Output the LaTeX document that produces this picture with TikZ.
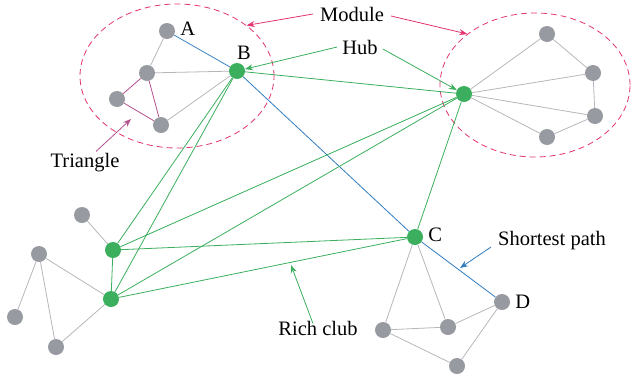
\documentclass[tikz,border=0pt]{standalone}
\usepackage{fontspec}
\setmainfont{Liberation Serif}
\usepackage{xcolor}
\usepackage{tikz}
\usetikzlibrary{positioning, arrows.meta, shapes.geometric}

\definecolor{clubgreen}{HTML}{3BAF5D}
\definecolor{nodegray}{HTML}{979AA0}
\definecolor{edgegray}{HTML}{B6B6BC}
\definecolor{pathblue}{HTML}{2F7DBF}
\definecolor{trimagenta}{HTML}{B5508F}
\definecolor{modpink}{HTML}{E3336E}

\begin{document}
\begin{tikzpicture}[
    x=1pt, y=-1pt,
    % vertex styles
    vgray/.style={circle, fill=nodegray, minimum size=16pt, inner sep=0pt},
    vhub/.style={circle, fill=clubgreen, minimum size=16pt, inner sep=0pt},
    % module outline
    modring/.style={ellipse, draw=modpink, dashed, line width=0.8pt,
        dash pattern=on 6pt off 4pt, inner sep=0pt},
    % edge styles
    plain/.style={draw=edgegray, line width=0.8pt},
    rich/.style={draw=clubgreen, line width=0.8pt},
    short/.style={draw=pathblue, line width=0.8pt},
    tri/.style={draw=trimagenta, line width=0.8pt},
    % callouts
    txt/.style={font=\fontsize{20.5}{22}\selectfont, inner sep=1pt},
    callout/.style={-{Stealth[length=8pt, width=6pt]}, line width=0.8pt}
]
    \useasboundingbox (0,0) rectangle (631,381);

    % Modules
    \node[modring, minimum width=194pt, minimum height=144pt] (modL) at (177,76) {};
    \node[modring, minimum width=190pt, minimum height=144pt] (modR) at (535,85) {};

    % Nodes - left module
    \node[vgray] (vA) at (167,31) {};
    \node[vhub]  (vB) at (237,71) {};
    \node[vgray] (lm) at (147,73) {};
    \node[vgray] (ll) at (117,99) {};
    \node[vgray] (lb) at (161,125) {};

    % Nodes - right module
    \node[vhub]  (vR) at (464,94) {};
    \node[vgray] (r1) at (547,34) {};
    \node[vgray] (r2) at (593,73) {};
    \node[vgray] (r3) at (595,116) {};
    \node[vgray] (r4) at (547,137) {};

    % Nodes - lower left
    \node[vhub]  (g1) at (113,250) {};
    \node[vhub]  (g2) at (111,299) {};
    \node[vgray] (b0) at (82,215) {};
    \node[vgray] (b1) at (39,254) {};
    \node[vgray] (b2) at (15,317) {};
    \node[vgray] (b3) at (56,347) {};

    % Nodes - lower right
    \node[vhub]  (vC) at (415,237) {};
    \node[vgray] (vD) at (502,302) {};
    \node[vgray] (c1) at (383,330) {};
    \node[vgray] (c2) at (448,327) {};
    \node[vgray] (c3) at (457,366) {};

    % Letters
    \node[txt, right=4pt of vA, yshift=2pt] (lblA) {A};
    \node[txt, above=2pt of vB, xshift=7pt] (lblB) {B};
    \node[txt, right=4pt of vC, yshift=2pt] (lblC) {C};
    \node[txt, right=4pt of vD] (lblD) {D};

    % Edges - plain
    \draw[plain] (vA) -- (lm);
    \draw[plain] (lm) -- (vB);
    \draw[plain] (lb) -- (vB);
    \draw[plain] (vR) -- (r1);
    \draw[plain] (vR) -- (r2);
    \draw[plain] (vR) -- (r3);
    \draw[plain] (vR) -- (r4);
    \draw[plain] (r1) -- (r2);
    \draw[plain] (r2) -- (r3);
    \draw[plain] (r3) -- (r4);
    \draw[plain] (b0) -- (g1);
    \draw[plain] (b1) -- (g2);
    \draw[plain] (b1) -- (b2);
    \draw[plain] (b1) -- (b3);
    \draw[plain] (b3) -- (g2);
    \draw[plain] (vC) -- (c1);
    \draw[plain] (vC) -- (c2);
    \draw[plain] (vD) -- (c2);
    \draw[plain] (vD) -- (c3);
    \draw[plain] (c1) -- (c2);
    \draw[plain] (c1) -- (c3);

    % Edges - triangle
    \draw[tri] (lm) -- (ll);
    \draw[tri] (ll) -- (lb);
    \draw[tri] (lm) -- (lb);

    % Edges - shortest path
    \draw[short] (vA) -- (vB);
    \draw[short] (vB) -- (vC);
    \draw[short] (vC) -- (vD);

    % Edges - rich club
    \draw[rich] (vB) -- (vR);
    \draw[rich] (vB) -- (g1);
    \draw[rich] (vB) -- (g2);
    \draw[rich] (vR) -- (g1);
    \draw[rich] (vR) -- (g2);
    \draw[rich] (vR) -- (vC);
    \draw[rich] (g1) -- (vC);
    \draw[rich] (g2) -- (vC);
    \draw[rich] (g1) -- (g2);

    % Callouts
    \node[txt] (tModule) at (352,14) {Module};
    \node[txt] (tHub) at (360,47) {Hub};
    \node[txt] (tTri) at (85,163) {Triangle};
    \node[txt] (tRich) at (318,328) {Rich club};
    \node[txt] (tPath) at (552,241) {Shortest path};

    \coordinate (triTip) at (131,119);
    \coordinate (richTip) at (291,265);
    \coordinate (pathTip) at (460,268);

    \draw[callout, modpink] ([xshift=-6pt]tModule.west) -- (modL.36);
    \draw[callout, modpink] ([xshift=6pt, yshift=-2pt]tModule.east) -- (modR.143);
    \draw[callout, clubgreen] ([xshift=-4pt]tHub.west) -- (vB);
    \draw[callout, clubgreen] ([xshift=4pt, yshift=-2pt]tHub.east) -- (vR);
    \draw[callout, trimagenta] ([xshift=11pt, yshift=1pt]tTri.north) -- (triTip);
    \draw[callout, clubgreen] ([xshift=-5pt, yshift=-4pt]tRich.north) -- (richTip);
    \draw[callout, pathblue] ([xshift=-6pt, yshift=-6pt]tPath.west) -- (pathTip);

\end{tikzpicture}
\end{document}
